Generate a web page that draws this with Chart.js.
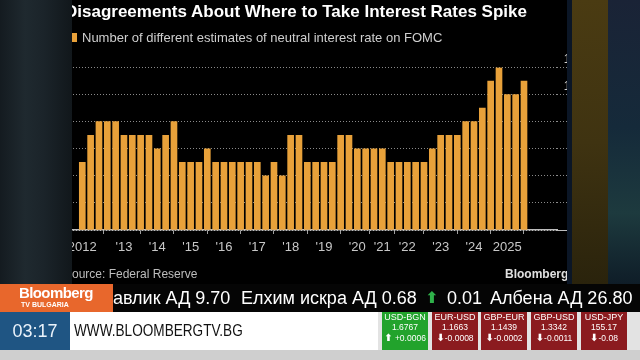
<!DOCTYPE html>
<html><head><meta charset="utf-8">
<script src="https://cdn.jsdelivr.net/npm/chart.js@4.4.1/dist/chart.umd.min.js"></script>
<style>
html,body{margin:0;padding:0;width:640px;height:360px;overflow:hidden;background:#000;font-family:"Liberation Sans",Arial,sans-serif;}
.a{position:absolute;white-space:nowrap;}
#panel{left:0;top:0;width:567px;height:284px;overflow:hidden;background:#000;}
#title{left:65px;top:2px;font-size:17px;font-weight:bold;color:#fff;line-height:19px;}
#legsq{left:68px;top:33px;width:9px;height:9px;background:#E8A13A;}
#legtx{left:82px;top:30px;font-size:13px;color:#cfcfcf;line-height:15px;}
#src{left:64px;top:267px;font-size:12px;color:#bdbdbd;line-height:14px;}
#bbg{left:505px;top:267px;font-size:12px;font-weight:bold;color:#e0e0e0;line-height:14px;}
#lstrip{left:0;top:0;width:72px;height:284px;background:linear-gradient(90deg,#141b20 0%,#1f292f 35%,#1b242a 60%,#11171b 100%);}
#r1{left:567px;top:0;width:5px;height:284px;background:#0b1626;}
#r2{left:572px;top:0;width:36px;height:284px;background:linear-gradient(180deg,#4a3b12 0%,#3f3311 50%,#2a230c 100%);}
#r3{left:608px;top:0;width:32px;height:284px;background:linear-gradient(180deg,#1a2336 0%,#152a3a 45%,#1d3a3e 75%,#0f1d28 100%);}
#tick{left:0;top:284px;width:640px;height:28px;background:#050505;color:#fff;font-size:18px;line-height:28px;}
#orange{left:0;top:284px;width:113px;height:28px;background:#E8672C;}
#bb1{left:19px;top:0px;font-size:15px;font-weight:bold;color:#fff;letter-spacing:-0.6px;line-height:17px;}
#bb2{left:21px;top:17px;font-size:7px;font-weight:bold;color:#fff;line-height:8px;}
#blue{left:0;top:312px;width:70px;height:38px;background:#1f5583;color:#eaf2fa;font-size:18px;line-height:38px;text-align:center;}
#white{left:70px;top:312px;width:308px;height:38px;background:#fff;}
#www{left:4px;top:0;font-size:16px;line-height:38px;color:#111;transform:scaleX(0.85);transform-origin:left center;}
#grey{left:378px;top:312px;width:262px;height:38px;background:#e3e3e3;}
#bottom{left:0;top:350px;width:640px;height:10px;background:#cfcfcf;}
.box{position:absolute;top:312px;width:46px;height:38px;text-align:center;color:#fff;}
.box div{position:absolute;left:0;width:100%;white-space:nowrap;}
.n{top:0;height:10px;line-height:10px;font-size:9px;}
.v{top:10px;height:10px;line-height:10px;font-size:8.5px;}
.c{top:20px;height:11px;line-height:11px;font-size:8.5px;}
.g{background:#22a32c;}
.r{background:#8b1b1f;}
.ar{font-family:"DejaVu Sans";font-size:10px;font-weight:bold;}
</style></head><body>
<div id="panel" class="a">
  <div class="a" style="left:0;top:0;width:600px;height:284px;"><canvas id="c" width="600" height="284"></canvas></div>
  <div id="title" class="a">Disagreements About Where to Take Interest Rates Spike</div>
  <div id="legsq" class="a"></div>
  <div id="legtx" class="a">Number of different estimates of neutral interest rate on FOMC</div>
  <div id="src" class="a">Source: Federal Reserve</div>
  <div id="bbg" class="a">Bloomberg</div>
</div>
<div id="lstrip" class="a"></div>
<div id="r1" class="a"></div><div id="r2" class="a"></div><div id="r3" class="a"></div>
<div id="tick" class="a">
  <span class="a" style="left:100px;">Павлик АД 9.70</span>
  <span class="a" style="left:241px;">Елхим искра АД 0.68</span>
  <span class="a" style="left:425px;color:#2fb14a;font-family:'DejaVu Sans';font-weight:bold;font-size:16px;">⬆</span>
  <span class="a" style="left:447px;">0.01</span>
  <span class="a" style="left:490px;">Албена АД 26.80</span>
</div>
<div id="orange" class="a"><div id="bb1" class="a">Bloomberg</div><div id="bb2" class="a">TV BULGARIA</div></div>
<div id="blue" class="a">03:17</div>
<div id="white" class="a"><div id="www" class="a">WWW.BLOOMBERGTV.BG</div></div>
<div id="grey" class="a"></div>
<div class="box g" style="left:382px;"><div class="n">USD-BGN</div><div class="v">1.6767</div><div class="c"><span class="ar">⬆</span> +0.0006</div></div>
<div class="box r" style="left:432px;"><div class="n">EUR-USD</div><div class="v">1.1663</div><div class="c"><span class="ar">⬇</span>-0.0008</div></div>
<div class="box r" style="left:481px;"><div class="n">GBP-EUR</div><div class="v">1.1439</div><div class="c"><span class="ar">⬇</span>-0.0002</div></div>
<div class="box r" style="left:531px;"><div class="n">GBP-USD</div><div class="v">1.3342</div><div class="c"><span class="ar">⬇</span>-0.0011</div></div>
<div class="box r" style="left:581px;"><div class="n">USD-JPY</div><div class="v">155.17</div><div class="c"><span class="ar">⬇</span>-0.08</div></div>
<div id="bottom" class="a"></div>
<script>
const categories = [
 '2012-01','2012-04','2012-06','2012-09','2012-12',
 '2013-03','2013-06','2013-09','2013-12',
 '2014-03','2014-06','2014-09','2014-12',
 '2015-03','2015-06','2015-09','2015-12',
 '2016-03','2016-06','2016-09','2016-12',
 '2017-03','2017-06','2017-09','2017-12',
 '2018-03','2018-06','2018-09','2018-12',
 '2019-03','2019-06','2019-09','2019-12',
 '2020-06','2020-09','2020-12',
 '2021-03','2021-06','2021-09',
 '2022-03','2022-06','2022-09','2022-12',
 '2023-03','2023-06','2023-09','2023-12',
 '2024-03','2024-06','2024-09','2024-12',
 '2025-03','2025-06','2025-09'
];
const values = [
 5,7,8,8,8,
 7,7,7,7,
 6,7,8,5,
 5,5,6,5,
 5,5,5,5,
 5,4,5,4,
 7,7,5,5,
 5,5,7,7,
 6,6,6,
 6,5,5,
 5,5,5,6,
 7,7,7,8,
 8,9,11,12,
 10,10,11
];
const yearLabels = ['2012',"'13","'14","'15","'16","'17","'18","'19","'20","'21","'22","'23","'24",'2025'];
const yTickValues = [0,2,4,6,8,10,12];

const yearIdx = categories.map((c,i)=> (i===0 || c.slice(0,4)!==categories[i-1].slice(0,4)) ? i : -1).filter(i=>i>=0);

Chart.defaults.font.family = "'Liberation Sans', Arial, sans-serif";
new Chart(document.getElementById('c').getContext('2d'), {
  type: 'bar',
  data: { datasets: [{
    label: 'Number of different estimates of neutral interest rate on FOMC',
    data: categories.map((c,i)=>({x:i, y:values[i]})),
    backgroundColor: '#E8A13A', borderWidth: 0, barThickness: 6
  }]},
  options: {
    responsive: false, animation: false,
    layout: { padding: { left: 73, right: 23, top: 67.5, bottom: 24 } },
    plugins: { legend: { display: false }, tooltip: { enabled: false } },
    scales: {
      x: {
        type: 'linear', min: -1.116, max: 56.96, offset: false,
        afterBuildTicks: s => { s.ticks = yearIdx.map(v => ({ value: v })); },
        afterFit: s => { s.height = 30; },
        ticks: { autoSkip: false, maxRotation: 0, padding: 6, color: '#c8c8c8', font: { size: 13 },
          callback: v => { const k = yearIdx.indexOf(v); return k < 0 ? '' : yearLabels[k]; } },
        grid: { display: true, drawOnChartArea: false, drawTicks: true, tickLength: 4, tickColor: '#a0a0a0', tickWidth: 1 },
        border: { display: true, color: '#bdbdbd', width: 1.5 }
      },
      y: {
        type: 'linear', position: 'right', min: 0, max: 12,
        afterBuildTicks: s => { s.ticks = yTickValues.map(v => ({ value: v })); },
        afterFit: s => { s.width = 20; },
        ticks: { crossAlign: 'far', padding: -8, labelOffset: -8, color: '#d0d0d0', font: { size: 12 } },
        grid: { color: c => c.tick && c.tick.value === 0 ? '#bdbdbd' : '#8a8a8a', lineWidth: 1, drawTicks: true, tickLength: 12,
          tickColor: c => c.tick && c.tick.value === 0 ? '#bdbdbd' : '#8a8a8a',
          tickBorderDash: c => c.tick && c.tick.value === 0 ? [] : [1,2] },
        border: { display: false, dash: [1,2] }
      }
    }
  }
});
</script>
</body></html>
